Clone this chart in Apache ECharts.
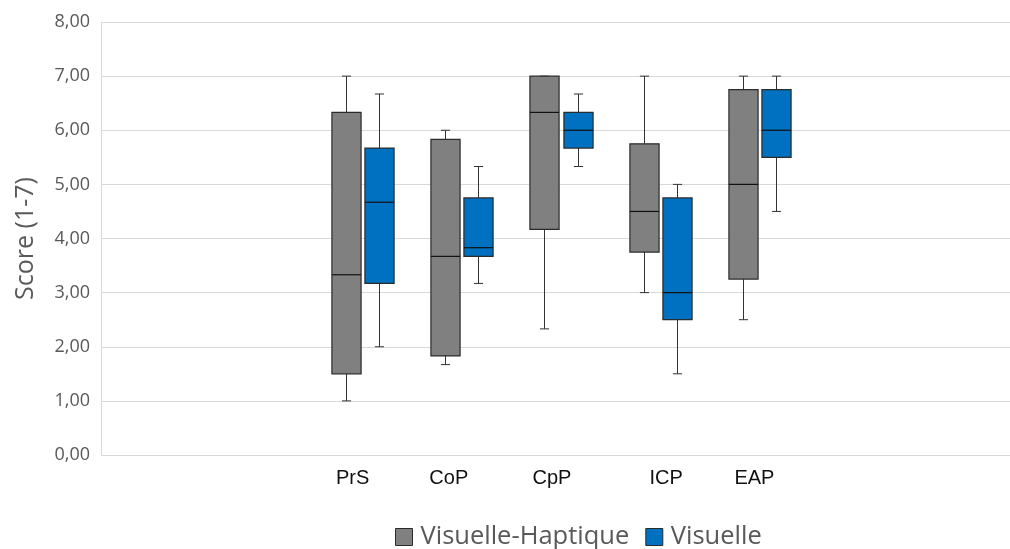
<!DOCTYPE html>
<html>
<head>
<meta charset="utf-8">
<script src="https://cdn.jsdelivr.net/npm/echarts@6/dist/echarts.min.js"></script>
<style>html,body{margin:0;padding:0;background:#fff}#c{width:1010px;height:549px}</style>
</head>
<body>
<div id="c"></div>
<script>
// ---- data ----
const categories = ['PrS', 'CoP', 'CpP', 'ICP', 'EAP'];
const seriesNames = ['Visuelle-Haptique', 'Visuelle'];
// [min, Q1, median, Q3, max]
const visuoHapticStats = [
  [1.00, 1.50, 3.33, 6.33, 7.00],
  [1.67, 1.83, 3.67, 5.83, 6.00],
  [2.33, 4.17, 6.33, 7.00, 7.00],
  [3.00, 3.75, 4.50, 5.75, 7.00],
  [2.50, 3.25, 5.00, 6.75, 7.00]
];
const visualStats = [
  [2.00, 3.17, 4.67, 5.67, 6.67],
  [3.17, 3.67, 3.83, 4.75, 5.33],
  [5.33, 5.67, 6.00, 6.33, 6.67],
  [1.50, 2.50, 3.00, 4.75, 5.00],
  [4.50, 5.50, 6.00, 6.75, 7.00]
];
const yMin = 0, yMax = 8, yInterval = 1;

// ---- styles ----
const fillColors = ['#808080', '#0070C0'];
const sideSign = [-1, 1];
const labelShift = [-10, -13, -9, 6, -5]; // px nudges of category labels

const chart = echarts.init(document.getElementById('c'), null, {renderer: 'canvas'});

function makeRender(s) {
  return function (params, api) {
    const i = api.value(0);
    const bw = api.size([1, 0])[0];
    const cx = api.coord([i, 0])[0] + sideSign[s] * bw / 6;
    const yMinP = api.coord([i, api.value(1)])[1];
    const yQ1 = api.coord([i, api.value(2)])[1];
    const yMed = api.coord([i, api.value(3)])[1];
    const yQ3 = api.coord([i, api.value(4)])[1];
    const yMaxP = api.coord([i, api.value(5)])[1];
    const half = bw * 0.147;
    const cap = bw * 0.046;
    const lineStyle = {stroke: '#333333', lineWidth: 1};
    const x = Math.round(cx) + 0.5;
    return {
      type: 'group',
      children: [
        {type: 'line', shape: {x1: x, y1: yQ3, x2: x, y2: yMaxP}, style: lineStyle},
        {type: 'line', shape: {x1: x, y1: yQ1, x2: x, y2: yMinP}, style: lineStyle},
        {type: 'line', shape: {x1: x - cap, y1: yMaxP, x2: x + cap, y2: yMaxP}, style: lineStyle},
        {type: 'line', shape: {x1: x - cap, y1: yMinP, x2: x + cap, y2: yMinP}, style: lineStyle},
        {type: 'rect', shape: {x: x - half, y: yQ3, width: half * 2, height: yQ1 - yQ3},
          style: {fill: fillColors[s], stroke: '#2b2b2b', lineWidth: 1.2}},
        {type: 'line', shape: {x1: x - half, y1: yMed, x2: x + half, y2: yMed},
          style: {stroke: '#111111', lineWidth: 1.2}}
      ]
    };
  };
}

const rich = {};
labelShift.forEach(function (d, i) {
  rich['l' + i] = {
    fontFamily: 'Liberation Sans, Arial, sans-serif',
    fontSize: 20,
    color: '#111111',
    padding: d < 0 ? [0, -2 * d, 0, 0] : [0, 0, 0, 2 * d]
  };
});

const option = {
  animation: false,
  backgroundColor: '#ffffff',
  grid: [
    {left: 101, right: 0, top: 22, bottom: 94},
    {left: 313, width: 496, top: 22, bottom: 94}
  ],
  xAxis: [
    {gridIndex: 0, type: 'value', min: 0, max: 1, show: false},
    {
      gridIndex: 1, type: 'category', data: categories,
      axisLine: {show: false}, axisTick: {show: false},
      axisLabel: {
        margin: 13,
        formatter: function (v, i) { return '{l' + i + '|' + v + '}'; },
        rich: rich
      }
    }
  ],
  yAxis: [
    {
      gridIndex: 0, type: 'value', min: yMin, max: yMax, interval: yInterval,
      name: 'Score (1-7)', nameLocation: 'middle', nameGap: 63,
      nameTextStyle: {fontFamily: 'Open Sans, Noto Sans, sans-serif', fontSize: 25, color: '#595959'},
      axisLine: {show: true, lineStyle: {color: '#d9d9d9', width: 1}},
      axisTick: {show: false},
      axisLabel: {
        margin: 11,
        fontFamily: 'Open Sans, Noto Sans, sans-serif', fontSize: 18, color: '#595959',
        formatter: function (v) { return v.toFixed(2).replace('.', ','); }
      },
      splitLine: {show: true, lineStyle: {color: '#d9d9d9', width: 1}}
    },
    {gridIndex: 1, type: 'value', min: yMin, max: yMax, interval: yInterval, show: false}
  ],
  legend: {
    left: 395, top: 524, padding: 0,
    data: seriesNames,
    icon: 'rect', itemWidth: 17, itemHeight: 17, itemGap: 16,
    itemStyle: {borderColor: '#2b2b2b', borderWidth: 1},
    textStyle: {fontFamily: 'Open Sans, Noto Sans, sans-serif', fontSize: 25.5, lineHeight: 26, color: '#595959', padding: [0, 0, 0, 3]}
  },
  series: [visuoHapticStats, visualStats].map(function (stats, s) {
    return {
      name: seriesNames[s],
      type: 'custom',
      xAxisIndex: 1, yAxisIndex: 1,
      itemStyle: {color: fillColors[s]},
      encode: {x: 0, y: [1, 2, 3, 4, 5]},
      renderItem: makeRender(s),
      data: stats.map(function (d, i) { return [i].concat(d); })
    };
  })
};
chart.setOption(option);
</script>
</body>
</html>
